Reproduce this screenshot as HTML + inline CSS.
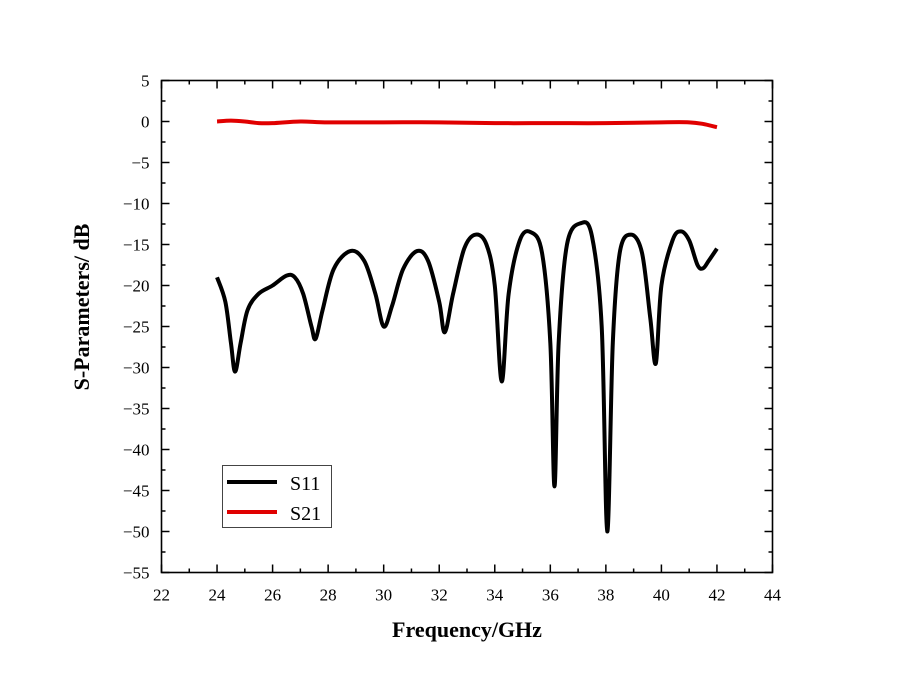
<!DOCTYPE html>
<html><head><meta charset="utf-8"><style>
body{margin:0;background:#fff}
svg{display:block;font-family:"Liberation Serif",serif}
</style></head><body>
<svg id="chart" width="903" height="691" viewBox="0 0 903 691">
<g id="ticks"></g>
<g id="series"></g>
<rect x="161.5" y="80.5" width="611" height="492" fill="none" stroke="#000" stroke-width="1.6"/>
<text x="467" y="637" text-anchor="middle" font-size="22" font-weight="bold">Frequency/GHz</text>
<text transform="translate(89,307) rotate(-90)" text-anchor="middle" font-size="22" font-weight="bold">S-Parameters/ dB</text>
<g>
<rect x="222.5" y="465.5" width="109" height="62" fill="#fff" stroke="#444" stroke-width="1"/>
<line x1="227" y1="482" x2="277" y2="482" stroke="#000" stroke-width="4"/>
<text x="290" y="490" font-size="20">S11</text>
<line x1="227" y1="512" x2="277" y2="512" stroke="#e00000" stroke-width="4"/>
<text x="290" y="520" font-size="20">S21</text>
</g>
</svg>
<script>
const xTicks=[22,24,26,28,30,32,34,36,38,40,42,44];
const yTicks=[5,0,-5,-10,-15,-20,-25,-30,-35,-40,-45,-50,-55];
const s11Freq=[24.0,24.3,24.5,24.65,24.85,25.1,25.5,26.0,26.5,26.8,27.1,27.4,27.55,27.8,28.2,28.8,29.3,29.7,30.0,30.3,30.7,31.2,31.6,32.0,32.2,32.5,32.9,33.3,33.7,34.0,34.25,34.5,34.9,35.3,35.7,36.0,36.15,36.3,36.6,37.1,37.5,37.85,38.05,38.25,38.5,38.9,39.3,39.6,39.8,40.0,40.4,40.7,41.0,41.3,41.5,41.7,42.0];
const s11dB=[-19,-22,-27,-30.5,-27,-23,-21,-20,-18.8,-19,-21,-25,-26.5,-23,-18,-15.8,-17,-21,-25,-22.5,-18,-15.8,-17,-22,-25.7,-21,-15.5,-13.8,-15,-20,-31.7,-21,-14.5,-13.5,-16,-27,-44.5,-27,-15,-12.4,-14,-25,-50,-27,-16,-13.8,-16,-24,-29.5,-20,-14.5,-13.4,-14.5,-17.5,-17.9,-17,-15.5];
const s21Freq=[24,24.5,25,25.5,26,27,28,30,32,34,36,38,40,41,41.5,42];
const s21dB=[0,0.1,0,-0.2,-0.2,0,-0.1,-0.1,-0.1,-0.2,-0.2,-0.2,-0.1,-0.1,-0.3,-0.7];
const X0=161.5,X1=772.5,Y0=80.5,Y1=572.5;
const xs=f=>X0+(f-22)/(44-22)*(X1-X0);
const ys=v=>Y0+(5-v)/(60)*(Y1-Y0);
const NS="http://www.w3.org/2000/svg";
const tg=document.getElementById('ticks'), sg=document.getElementById('series');
function ln(x1,y1,x2,y2,name){const l=document.createElementNS(NS,'line');
l.setAttribute('x1',x1);l.setAttribute('y1',y1);l.setAttribute('x2',x2);l.setAttribute('y2',y2);
l.setAttribute('stroke','#000');l.setAttribute('stroke-width','1.5');


tg.appendChild(l);}
function tx(x,y,s,anchor,name){const t=document.createElementNS(NS,'text');
t.setAttribute('x',x);t.setAttribute('y',y);t.setAttribute('text-anchor',anchor);t.setAttribute('font-size','17');
t.textContent=s;


tg.appendChild(t);}
xTicks.forEach((v,i)=>{const x=xs(v);
ln(x,Y1,x,Y1-8,'x-tick');ln(x,Y0,x,Y0+8,'x-tick-top');
tx(x,Y1+28,String(v),'middle','x-tick-label');
if(i<xTicks.length-1){const m=xs(v+1);ln(m,Y1,m,Y1-4,'x-minor-tick');ln(m,Y0,m,Y0+4,'x-minor-tick-top');}});
yTicks.forEach((v,i)=>{const y=ys(v);
ln(X0,y,X0+8,y,'y-tick');ln(X1,y,X1-8,y,'y-tick-right');
tx(X0-12,y+6,String(v).replace('-','\u2212'),'end','y-tick-label');
if(i<yTicks.length-1){const m=ys(v-2.5);ln(X0,m,X0+4,m,'y-minor-tick');ln(X1,m,X1-4,m,'y-minor-tick-right');}});
function path(fx,fy,color,name){const p=fx.map((f,i)=>[xs(f),ys(fy[i])]);
let d='M'+p[0][0]+','+p[0][1];
for(let i=0;i<p.length-1;i++){const a=p[Math.max(0,i-1)],b=p[i],c=p[i+1],e=p[Math.min(p.length-1,i+2)];
const t=6;
d+=' C'+(b[0]+(c[0]-a[0])/t)+','+(b[1]+(c[1]-a[1])/t)+' '+(c[0]-(e[0]-b[0])/t)+','+(c[1]-(e[1]-b[1])/t)+' '+c[0]+','+c[1];}
const el=document.createElementNS(NS,'path');el.setAttribute('d',d);el.setAttribute('fill','none');
el.setAttribute('stroke',color);el.setAttribute('stroke-width','4');el.setAttribute('stroke-linejoin','round');


sg.appendChild(el);}
path(s11Freq,s11dB,'#000','s11-line');
path(s21Freq,s21dB,'#e00000','s21-line');
</script>
</body></html>
